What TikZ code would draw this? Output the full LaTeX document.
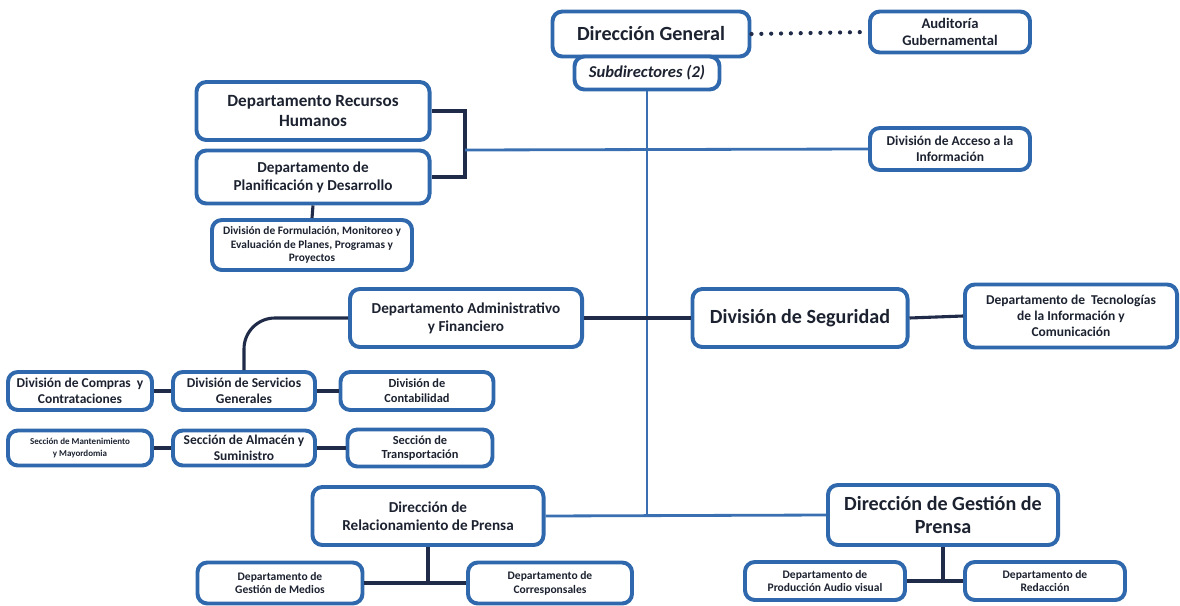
\documentclass[tikz,border=0pt]{standalone}
\usepackage{fontspec}
\setmainfont{Carlito}
\definecolor{boxblue}{HTML}{2F68AC}
\definecolor{inkdark}{HTML}{1C2230}
\definecolor{linkdark}{HTML}{1F2B48}
\definecolor{trunkblue}{HTML}{3A70B2}
\tikzset{
  unit/.style={draw=boxblue, line width=2.8pt, rounded corners=7pt, fill=white,
    align=center, text=inkdark, inner sep=2pt, font=\bfseries},
  big/.style={font=\bfseries\fontsize{14.3}{16.5}\selectfont},
  top/.style={font=\bfseries\fontsize{12.2}{14.5}\selectfont},
  mid/.style={font=\bfseries\fontsize{10.8}{12.8}\selectfont},
  low/.style={font=\bfseries\fontsize{9.6}{11.2}\selectfont},
  sml/.style={font=\bfseries\fontsize{8.8}{10.4}\selectfont},
  tiny/.style={font=\bfseries\fontsize{8.1}{9.6}\selectfont},
  dept/.style={font=\bfseries\fontsize{8.2}{9.8}\selectfont},
  link/.style={draw=linkdark, line width=2.2pt},
  trunk/.style={draw=trunkblue, line width=2pt},
}
\begin{document}
\begin{tikzpicture}[x=0.025cm,y=-0.025cm]
      \useasboundingbox (0,0) rectangle (1180,606);
      \draw
        (651,34) node[unit,big,minimum width=4.925cm,minimum height=1.125cm] (dg){Dirección General}
        (647,73) node[unit,minimum width=3.625cm,minimum height=0.825cm,font=\bfseries\itshape\fontsize{11.8}{13}\selectfont] (sub){Subdirectores (2)}
        (950,32) node[unit,minimum width=4cm,minimum height=1.025cm,font=\bfseries\fontsize{10.4}{12.2}\selectfont] (aud){Auditoría\\Gubernamental}
        (313,111) node[unit,top,minimum width=5.825cm,minimum height=1.45cm] (rh){Departamento Recursos\\Humanos}
        (313,177) node[unit,mid,minimum width=5.825cm,minimum height=1.325cm] (pd){Departamento de\\Planificación y Desarrollo}
        (312,245) node[unit,tiny,minimum width=5cm,minimum height=1.25cm] (form){División de Formulación, Monitoreo y\\Evaluación de Planes, Programas y\\Proyectos}
        (950,149) node[unit,low,minimum width=4cm,minimum height=1.05cm] (acc){División de Acceso a la\\Información}
        (466,318) node[unit,mid,minimum width=5.8cm,minimum height=1.45cm] (adm){Departamento Administrativo\\y Financiero}
        (800,318) node[unit,big,minimum width=5.375cm,minimum height=1.45cm] (seg){División de Seguridad}
        (1071,316) node[unit,low,minimum width=5.3cm,minimum height=1.575cm] (tec){Departamento de\ \ Tecnologías\\de la Información y\\Comunicación}
        (80,391) node[unit,low,minimum width=3.6cm,minimum height=0.95cm] (comp){División de Compras\ \ y\\Contrataciones}
        (244,391) node[unit,low,minimum width=3.55cm,minimum height=0.95cm] (serv){División de Servicios\\Generales}
        (417,391) node[unit,sml,minimum width=3.825cm,minimum height=0.95cm] (cont){División de\\Contabilidad}
        (80,448) node[unit,minimum width=3.6cm,minimum height=0.875cm,font=\bfseries\fontsize{6.4}{8}\selectfont] (mant){Sección de Mantenimiento\\y Mayordomia}
        (244,448) node[unit,low,minimum width=3.55cm,minimum height=0.875cm] (alm){Sección de Almacén y\\Suministro}
        (420,448) node[unit,sml,minimum width=3.625cm,minimum height=0.925cm] (trans){Sección de\\Transportación}
        (428,516) node[unit,mid,minimum width=5.775cm,minimum height=1.45cm] (rel){Dirección de\\Relacionamiento de Prensa}
        (943,515) node[unit,big,minimum width=5.75cm,minimum height=1.5cm] (ges){Dirección de Gestión de\\Prensa}
        (280,583) node[unit,dept,minimum width=4.125cm,minimum height=1.025cm] (med){Departamento de\\Gestión de Medios}
        (550,583) node[unit,dept,minimum width=4.1cm,minimum height=1.025cm] (cor){Departamento de\\Corresponsales}
        (825,581) node[unit,dept,minimum width=4cm,minimum height=0.95cm] (prod){Departamento de\\Producción Audio visual}
        (1045,581) node[unit,dept,minimum width=4cm,minimum height=0.95cm] (red){Departamento de\\Redacción};
      \coordinate (brk) at (465,150);
      \begin{scope}
        \draw[link, line width=3pt, dash pattern=on 0pt off 7pt, line cap=round] (dg.east) -- (aud.west);
        \draw[trunk] (sub.south) -- (sub.south |- rel.east);
        \draw[trunk] (rel.east) -- (ges.west);
        \draw[link] (rh.east) -| (brk) |- (pd.east);
        \draw[trunk] (brk) -- (acc.west);
        \draw[link] (pd.south) -- (form.north);
        \draw[link] (adm.east) -- (seg.west);
        \draw[link] (seg.east) -- (tec.west);
        \draw[link, rounded corners=22pt] (adm.west) -| (serv.north);
        \draw[link] (comp.east) -- (serv.west);
        \draw[link] (serv.east) -- (cont.west);
        \draw[link] (mant.east) -- (alm.west);
        \draw[link] (alm.east) -- (trans.west);
        \draw[link] (rel.south) -- (rel.south |- med.east);
        \draw[link] (med.east) -- (cor.west);
        \draw[link] (ges.south) -- (ges.south |- prod.east);
        \draw[link] (prod.east) -- (red.west);
      \end{scope}
    \end{tikzpicture}
\end{document}
